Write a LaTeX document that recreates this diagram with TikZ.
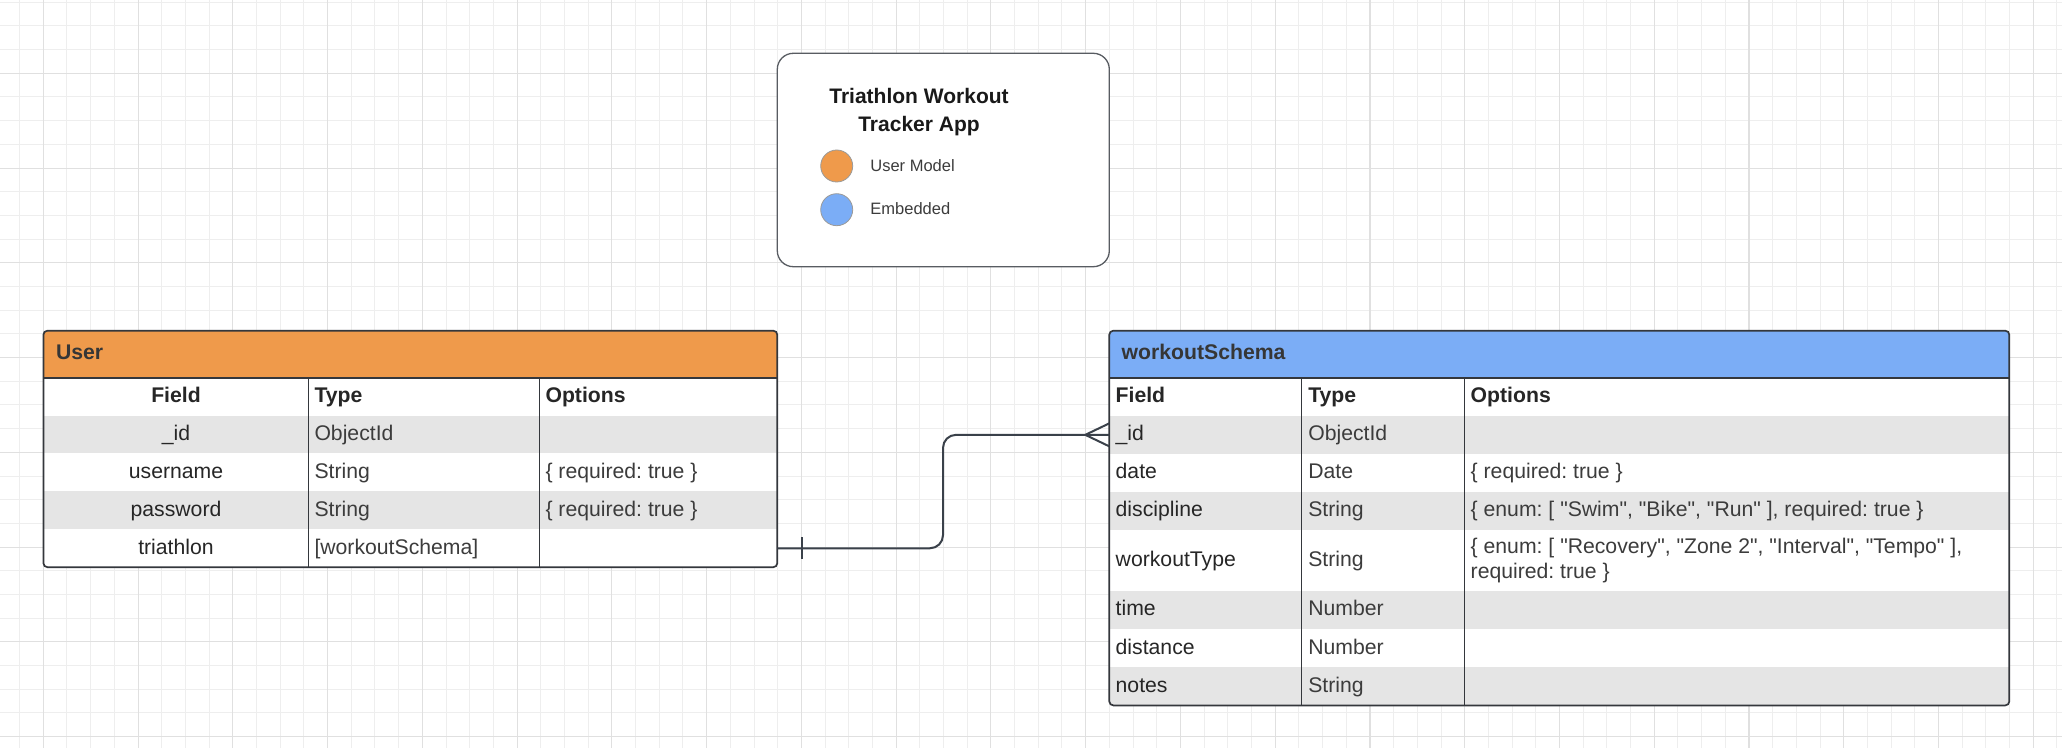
\documentclass[tikz,border=0pt]{standalone}
\usepackage{fontspec}
\setmainfont{Liberation Sans}[Ligatures=TeXOff]
\usetikzlibrary{fit,calc}
\frenchspacing
\definecolor{orangeH}{HTML}{EF9A4B}
\definecolor{blueH}{HTML}{7BADF6}
\definecolor{rowgray}{HTML}{E5E5E5}
\definecolor{bordc}{HTML}{34373C}
\definecolor{linec}{HTML}{3A414A}
\definecolor{gridminor}{HTML}{EEEEEE}
\definecolor{gridmajor}{HTML}{E0E0E0}
\definecolor{celltxt}{HTML}{3C3C3C}
\definecolor{fieldtxt}{HTML}{262626}
\definecolor{hdrtxt}{HTML}{262626}
\definecolor{legbord}{HTML}{585C62}
\definecolor{dotbord}{HTML}{9A9A9A}
\tikzset{
  gridmin/.style={draw=gridminor, line width=0.5pt},
  gridmaj/.style={draw=gridmajor, line width=0.55pt},
  tborder/.style={draw=bordc, line width=0.85pt},
  tdiv/.style={draw=bordc, line width=0.7pt},
  rowbox/.style={inner sep=0pt, outer sep=0pt, draw=none},
  cell/.style={inner sep=0pt, outer sep=0pt, font=\fontsize{10.6pt}{12.5pt}\selectfont, text=celltxt},
  fieldcell/.style={cell, text=fieldtxt},
  hdr/.style={inner sep=0pt, outer sep=0pt, font=\fontsize{10.6pt}{12.5pt}\selectfont\bfseries, text=hdrtxt},
  conn/.style={draw=linec, line width=1pt},
  legtxt/.style={inner sep=0pt, font=\fontsize{8.25pt}{10pt}\selectfont, text=celltxt},
  legdot/.style={circle, minimum size=16pt, inner sep=0pt, draw=dotbord, line width=0.4pt},
  titletxt/.style={inner sep=0pt, font=\fontsize{10.5pt}{12.5pt}\selectfont\bfseries, text=black!90},
}
\begin{document}
\begin{tikzpicture}[x=0.5pt, y=-0.5pt]
\useasboundingbox (0,0) rectangle (2062,748);
\fill[white] (0,0) rectangle (2062,748);
\begin{scope}
\clip (0,0) rectangle (2062,748);
\foreach \k in {-1,...,87} \draw[gridmin] ({43.3+23.69*\k},0) -- ({43.3+23.69*\k},748);
\foreach \k in {-4,...,29} \draw[gridmin] (0,{73.3+23.69*\k}) -- (2062,{73.3+23.69*\k});
\foreach \k in {0,...,21} \draw[gridmaj] ({43.3+94.76*\k},0) -- ({43.3+94.76*\k},748);
\foreach \k in {-1,...,7} \draw[gridmaj] (0,{73.3+94.76*\k}) -- (2062,{73.3+94.76*\k});
\end{scope}

% ---------- legend ----------
\node[draw=legbord, line width=0.65pt, rounded corners=8pt, fill=white, fit={(777.3,53.3) (1109.3,266.7)}, inner sep=0pt] (legend) {};
\node[titletxt, anchor=base] (title1) at (919,104) {Triathlon Workout};
\node[titletxt, anchor=base] (title2) at (919,131.7) {Tracker App};
\node[legdot, fill=orangeH] (dotU) at (836.7,166) {};
\node[legdot, fill=blueH] (dotE) at (836.7,209.7) {};
\node[legtxt, anchor=base west] (legU) at (870,171.3) {User Model};
\node[legtxt, anchor=base west] (legE) at (870,214.6) {Embedded};

% ---------- User table ----------
\begin{scope}
\clip[rounded corners=2pt] (43.4,330.7) rectangle (777.3,567.2);
\node[rowbox, fill=orangeH, fit={(43.4,330.7) (777.3,377.7)}] (uhead) {};
\node[rowbox, fill=white, fit={(43.4,377.7) (777.3,415.6)}] (u-f) {};
\node[rowbox, fill=rowgray, fit={(43.4,415.6) (777.3,453.5)}] (u-id) {};
\node[rowbox, fill=white, fit={(43.4,453.5) (777.3,491.4)}] (u-un) {};
\node[rowbox, fill=rowgray, fit={(43.4,491.4) (777.3,529.3)}] (u-pw) {};
\node[rowbox, fill=white, fit={(43.4,529.3) (777.3,567.2)}] (u-tri) {};
\end{scope}
\draw[tborder, rounded corners=2pt] (43.4,330.7) rectangle (777.3,567.2);
\draw[tborder] (43.4,377.7) -- (777.3,377.7);
\draw[tdiv] (308.5,377.7) -- (308.5,567.2);
\draw[tdiv] (539.5,377.7) -- (539.5,567.2);

\node[hdr, anchor=base west, text=celltxt!90!black] (u-title) at (56,359.2) {User};
\node[hdr, anchor=base] (u-h1) at (176,402.4) {Field};
\node[hdr, anchor=base west] (u-h2) at (314.5,402.4) {Type};
\node[hdr, anchor=base west] (u-h3) at (545.5,402.4) {Options};
\node[fieldcell, anchor=base] (u-c11) at (176,440.3) {\_id};
\node[cell, anchor=base west] (u-c12) at (314.5,440.3) {ObjectId};
\node[fieldcell, anchor=base] (u-c21) at (176,478.2) {username};
\node[cell, anchor=base west] (u-c22) at (314.5,478.2) {String};
\node[cell, anchor=base west] (u-c23) at (545.5,478.2) {\{ required: true \}};
\node[fieldcell, anchor=base] (u-c31) at (176,516.1) {password};
\node[cell, anchor=base west] (u-c32) at (314.5,516.1) {String};
\node[cell, anchor=base west] (u-c33) at (545.5,516.1) {\{ required: true \}};
\node[fieldcell, anchor=base] (u-c41) at (176,554) {triathlon};
\node[cell, anchor=base west] (u-c42) at (314.5,554) {[workoutSchema]};

% ---------- workoutSchema table ----------
\begin{scope}
\clip[rounded corners=2pt] (1109.3,330.7) rectangle (2009.3,705.4);
\node[rowbox, fill=blueH, fit={(1109.3,330.7) (2009.3,377.7)}] (whead) {};
\node[rowbox, fill=white, fit={(1109.3,377.7) (2009.3,415.8)}] (w-f) {};
\node[rowbox, fill=rowgray, fit={(1109.3,415.8) (2009.3,453.9)}] (w-id) {};
\node[rowbox, fill=white, fit={(1109.3,453.9) (2009.3,492)}] (w-date) {};
\node[rowbox, fill=rowgray, fit={(1109.3,492) (2009.3,530.1)}] (w-disc) {};
\node[rowbox, fill=white, fit={(1109.3,530.1) (2009.3,591.1)}] (w-wt) {};
\node[rowbox, fill=rowgray, fit={(1109.3,591.1) (2009.3,629.2)}] (w-time) {};
\node[rowbox, fill=white, fit={(1109.3,629.2) (2009.3,667.3)}] (w-dist) {};
\node[rowbox, fill=rowgray, fit={(1109.3,667.3) (2009.3,705.4)}] (w-notes) {};
\end{scope}
\draw[tborder, rounded corners=2pt] (1109.3,330.7) rectangle (2009.3,705.4);
\draw[tborder] (1109.3,377.7) -- (2009.3,377.7);
\draw[tdiv] (1301.7,377.7) -- (1301.7,705.4);
\draw[tdiv] (1464.3,377.7) -- (1464.3,705.4);

\node[hdr, anchor=base west, text=celltxt!90!black] (w-title) at (1121.7,359.2) {workoutSchema};
\node[hdr, anchor=base west] (w-h1) at (1115.7,402.5) {Field};
\node[hdr, anchor=base west] (w-h2) at (1308.3,402.5) {Type};
\node[hdr, anchor=base west] (w-h3) at (1470.7,402.5) {Options};
\node[fieldcell, anchor=base west] (w-c11) at (1115.7,440.6) {\_id};
\node[cell, anchor=base west] (w-c12) at (1308.3,440.6) {ObjectId};
\node[fieldcell, anchor=base west] (w-c21) at (1115.7,478.7) {date};
\node[cell, anchor=base west] (w-c22) at (1308.3,478.7) {Date};
\node[cell, anchor=base west] (w-c23) at (1470.7,478.7) {\{ required: true \}};
\node[fieldcell, anchor=base west] (w-c31) at (1115.7,516.8) {discipline};
\node[cell, anchor=base west] (w-c32) at (1308.3,516.8) {String};
\node[cell, anchor=base west] (w-c33) at (1470.7,516.8) {\{ enum: [ "Swim", "Bike", "Run" ], required: true \}};
\node[fieldcell, anchor=base west] (w-c41) at (1115.7,566.3) {workoutType};
\node[cell, anchor=base west] (w-c42) at (1308.3,566.3) {String};
\node[cell, anchor=base west] (w-c43a) at (1470.7,553.8) {\{ enum: [ "Recovery", "Zone 2", "Interval", "Tempo" ],};
\node[cell, anchor=base west] (w-c43b) at (1470.7,578.8) {required: true \}};
\node[fieldcell, anchor=base west] (w-c51) at (1115.7,615.9) {time};
\node[cell, anchor=base west] (w-c52) at (1308.3,615.9) {Number};
\node[fieldcell, anchor=base west] (w-c61) at (1115.7,654) {distance};
\node[cell, anchor=base west] (w-c62) at (1308.3,654) {Number};
\node[fieldcell, anchor=base west] (w-c71) at (1115.7,692.1) {notes};
\node[cell, anchor=base west] (w-c72) at (1308.3,692.1) {String};

% ---------- connector ----------
\coordinate (bend) at (943,0);
\draw[conn, rounded corners=6.5pt] (u-tri.east) -| (bend |- w-id.west) -- (w-id.west);
\draw[conn] (u-tri.east) ++(24.4,-11) -- ++(0,22);
\draw[conn] (w-id.west) ++(0,-11.5) -- ++(-24,11.5) -- ++(24,11.5);
\end{tikzpicture}
\end{document}
